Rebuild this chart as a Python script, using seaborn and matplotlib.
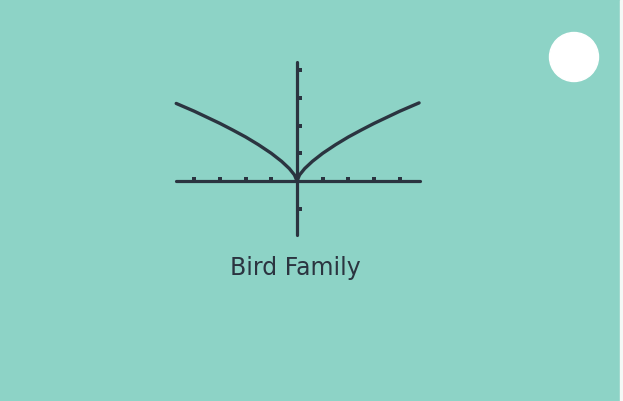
import numpy as np
import matplotlib
matplotlib.use("Agg")
import matplotlib.pyplot as plt
import pandas as pd
import seaborn as sns

# curve (graph of the "bird family")
curve_x = [-4.7, -4.0, -3.5, -3.0, -2.5, -2.0, -1.5, -1.0, -0.6, -0.3, -0.1, 0.0,
           0.1, 0.3, 0.6, 1.0, 1.5, 2.0, 2.5, 3.0, 3.5, 4.0, 4.75]
curve_y = [2.80, 2.52, 2.30, 2.08, 1.84, 1.59, 1.31, 1.00, 0.71, 0.45, 0.22, 0.0,
           0.22, 0.45, 0.71, 1.00, 1.31, 1.59, 1.84, 2.08, 2.30, 2.52, 2.82]

x_ticks = [-4, -3, -2, -1, 1, 2, 3, 4]
y_ticks = [-1, 1, 2, 3, 4]
x_axis_range = [-4.7, 4.8]
y_axis_range = [-1.95, 4.3]
title = "Bird Family"

card = "#8dd3c6"
ink = "#2b3440"

sns.set_style("white")
plt.rcParams["font.family"] = ["Liberation Sans Narrow", "DejaVu Sans"]

fig = plt.figure(figsize=(6.23, 4.01), dpi=100)
fig.patch.set_facecolor(card)
ax = fig.add_axes([0, 0, 1, 1])
ax.set_facecolor(card)

# pixel mapping: origin at (297, 181), 25.7 px per x unit, 27.7 px per y unit
ax.set_xlim(-297 / 25.7, (623 - 297) / 25.7)
ax.set_ylim((181 - 401) / 27.7, 181 / 27.7)
ax.axis("off")

# axes of the little graph
sns.lineplot(x=x_axis_range, y=[0, 0], ax=ax, color=ink, lw=2.3, estimator=None)
sns.lineplot(x=[0, 0], y=y_axis_range, ax=ax, color=ink, lw=2.3, estimator=None,
             sort=False)

# tick bumps
ax.scatter(x_ticks, [0.07] * len(x_ticks), marker="s", s=6, color=ink, lw=0)
ax.scatter([0.12] * len(y_ticks), y_ticks, marker="s", s=6, color=ink, lw=0)

df = pd.DataFrame({"x": curve_x, "y": curve_y})
sns.lineplot(data=df, x="x", y="y", ax=ax, color=ink, lw=2.4, estimator=None,
             sort=False)
ax.set_xlabel("")
ax.set_ylabel("")

ax.text(-0.05, (181 - 268) / 27.7, title, ha="center", va="center",
        fontsize=17, color=ink)

# punched hole and right edge of the card
hole = plt.Circle((574, 401 - 57), 24.5, transform=None, color="white", zorder=5)
fig.patches.append(hole)
fig.patches.append(plt.Rectangle((620 / 623, 0), 3 / 623, 1, transform=fig.transFigure,
                                 color="#f4f8f6", zorder=5))

fig.savefig("out.png", dpi=100, facecolor=card)
